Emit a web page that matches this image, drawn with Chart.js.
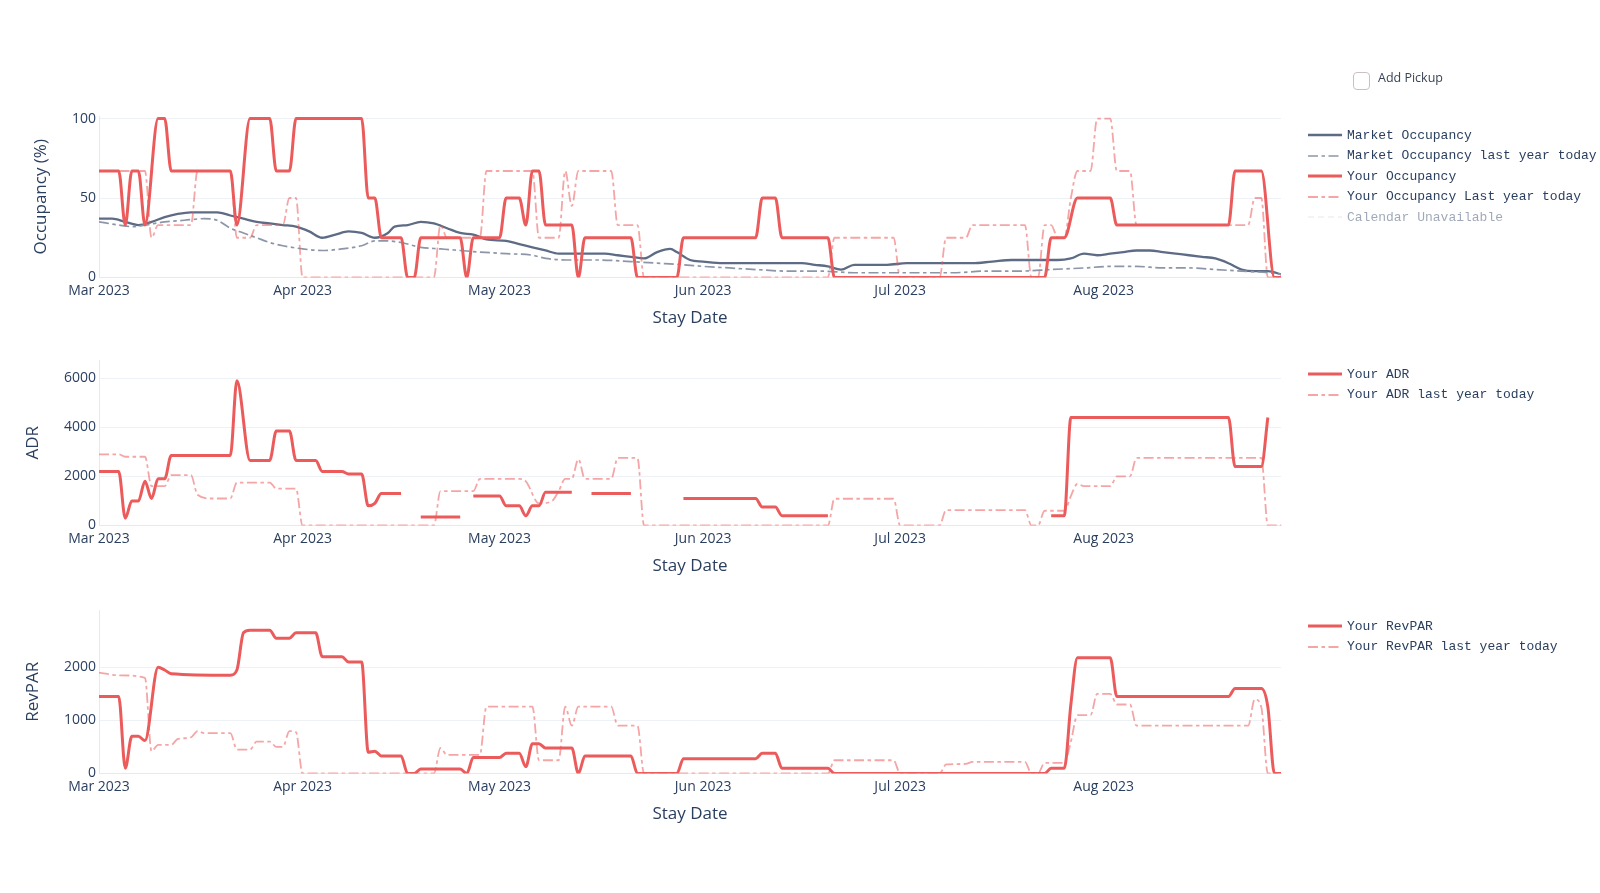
<!DOCTYPE html>
<html>
<head>
<meta charset="utf-8">
<script src="https://cdn.jsdelivr.net/npm/chart.js@4.4.0/dist/chart.umd.min.js"></script>
<style>
html,body{margin:0;padding:0;background:#fff;width:1600px;height:893px;overflow:hidden;}
canvas{position:absolute;left:0;top:0;}
.leg{position:absolute;left:1306px;font-family:"Liberation Mono","DejaVu Sans Mono",monospace;font-size:13px;color:#2a3f5f;white-space:nowrap;}
.row{height:20.4px;display:flex;align-items:center;}
.row svg{width:38px;height:10px;margin-right:3px;flex:none;}
.off{opacity:0.45;}
#pick{position:absolute;left:1353px;top:72px;width:15px;height:16px;border:1px solid #cbbfc3;border-radius:4px;}
#pickTxt{position:absolute;left:1378px;top:69px;font-family:"Open Sans",sans-serif;font-size:12.5px;color:#3a4456;line-height:17px;}
</style>
</head>
<body>
<canvas id="cOcc" width="1600" height="893"></canvas>
<canvas id="cAdr" width="1600" height="893"></canvas>
<canvas id="cRev" width="1600" height="893"></canvas>
<div id="pick"></div><div id="pickTxt">Add Pickup</div>
<div class="leg" id="legOcc" style="top:125.3px"></div>
<div class="leg" id="legAdr" style="top:364.3px"></div>
<div class="leg" id="legRev" style="top:616.3px"></div>
<script>
// ---- x axis: day offsets from 2023-03-01 (Stay Date) ----
const startDate = '2023-03-01';
const lastDay = 180; // 2023-08-28
const tickDays = [0, 31, 61, 92, 122, 153];
const tickLabels = ['Mar 2023', 'Apr 2023', 'May 2023', 'Jun 2023', 'Jul 2023', 'Aug 2023'];

// ---- Occupancy (%) : [day, value] ----
const marketOccupancy = [[0,37],[2,37],[4,35],[6,33],[8,35],[10,38],[12,40],[14,41],[16,41],[18,41],[20,39],[22,37],[24,35],[26,34],[28,33],[30,32],[32,29],[34,25],[36,27],[38,29],[40,28],[42,25],[44,28],[45,32],[47,33],[49,35],[51,34],[53,31],[55,28],[57,27],[59,24],[62,23],[64,21],[66,19],[68,17],[70,15],[72,15],[74,15],[77,15],[79,14],[81,13],[83,12],[85,16],[87,18],[88,16],[90,11],[92,10],[95,9],[98,9],[101,9],[104,9],[107,9],[109,8],[111,7],[113,5],[115,8],[118,8],[120,8],[123,9],[126,9],[130,9],[133,9],[136,10],[139,11],[142,11],[144,11],[146,11],[148,12],[150,15],[152,14],[154,15],[156,16],[158,17],[160,17],[162,16],[164,15],[166,14],[168,13],[170,12],[172,9],[174,5],[176,4],[178,4],[180,2]];
const marketOccupancyLY = [[0,35],[3,33],[5,32],[7,33],[10,35],[13,36],[16,37],[18,36],[20,31],[22,28],[24,25],[26,22],[28,20],[31,18],[34,17],[37,18],[40,20],[42,23],[44,23],[46,22],[49,19],[52,18],[55,17],[58,16],[62,15],[66,14],[68,12],[72,11],[76,11],[81,10],[85,9],[89,8],[92,7],[96,6],[100,5],[105,4],[110,4],[115,3],[120,3],[125,3],[130,3],[135,4],[140,4],[145,5],[150,6],[154,7],[158,7],[162,6],[166,6],[170,5],[174,4],[178,3],[180,2]];
const yourOccupancy = [[0,67],[3,67],[4,33],[5,67],[6,67],[7,33],[9,100],[10,100],[11,67],[20,67],[21,33],[23,100],[26,100],[27,67],[29,67],[30,100],[40,100],[41,50],[42,50],[43,25],[46,25],[47,0],[48,0],[49,25],[55,25],[56,0],[57,25],[61,25],[62,50],[64,50],[65,33],[66,67],[67,67],[68,33],[72,33],[73,0],[74,25],[81,25],[82,0],[88,0],[89,25],[100,25],[101,50],[103,50],[104,25],[111,25],[112,0],[144,0],[145,25],[147,25],[149,50],[154,50],[155,33],[172,33],[173,67],[177,67],[179,0],[180,0]];
const yourOccupancyLY = [[0,67],[7,67],[8,25],[9,33],[14,33],[15,67],[20,67],[21,25],[23,25],[24,33],[28,33],[29,50],[30,50],[31,0],[51,0],[52,33],[53,25],[58,25],[59,67],[66,67],[67,25],[70,25],[71,67],[72,45],[73,67],[78,67],[79,33],[82,33],[83,0],[111,0],[112,25],[121,25],[122,0],[128,0],[129,25],[132,25],[133,33],[141,33],[142,0],[143,0],[144,33],[145,33],[146,25],[147,25],[148,50],[149,67],[151,67],[152,100],[154,100],[155,67],[157,67],[158,33],[175,33],[176,50],[177,50],[178,0],[180,0]];

// ---- ADR ----
const yourADR = [[0,2200],[3,2200],[4,300],[5,1000],[6,1000],[7,1800],[8,1100],[9,1900],[10,1900],[11,2850],[20,2850],[21,5900],[23,2650],[26,2650],[27,3850],[29,3850],[30,2650],[33,2650],[34,2200],[37,2200],[38,2100],[40,2100],[41,800],[42,900],[43,1300],[46,1300],[46.5,null],[49,350],[55,350],[55.5,null],[57,1200],[61,1200],[62,800],[64,800],[65,400],[66,800],[67,800],[68,1350],[72,1350],[72.5,null],[75,1300],[81,1300],[81.5,null],[89,1100],[100,1100],[101,750],[103,750],[104,400],[111,400],[111.5,null],[145,400],[147,400],[148,4400],[172,4400],[173,2400],[177,2400],[178,4400]];
const yourADRLY = [[0,2900],[3,2900],[4,2800],[7,2800],[8,1600],[10,1600],[11,2050],[14,2050],[15,1250],[17,1100],[20,1100],[21,1750],[26,1750],[27,1500],[30,1500],[31,0],[51,0],[52,1400],[57,1400],[58,1900],[64,1900],[65,1800],[67,900],[69,1000],[70,1400],[71,1900],[72,1900],[73,2700],[74,1900],[78,1900],[79,2750],[82,2750],[83,0],[111,0],[112,1090],[121,1090],[122,0],[128,0],[129,630],[141,630],[142,0],[143,0],[144,600],[147,600],[148,1200],[149,1700],[150,1600],[154,1600],[155,2000],[157,2000],[158,2750],[177,2750],[178,0],[180,0]];

// ---- RevPAR ----
const yourRevPAR = [[0,1450],[3,1450],[4,100],[5,700],[6,700],[7,620],[9,2000],[10,1950],[11,1880],[20,1850],[21,1950],[22,2650],[23,2700],[26,2700],[27,2550],[29,2550],[30,2650],[33,2650],[34,2200],[37,2200],[38,2100],[40,2100],[41,400],[42,420],[43,330],[46,330],[47,0],[48,0],[49,85],[55,85],[56,0],[57,300],[61,300],[62,380],[64,380],[65,130],[66,560],[67,560],[68,480],[72,480],[73,0],[74,330],[81,330],[82,0],[88,0],[89,280],[100,280],[101,380],[103,380],[104,100],[111,100],[112,0],[144,0],[145,100],[147,100],[148,1300],[149,2180],[154,2180],[155,1450],[172,1450],[173,1600],[177,1600],[178,1250],[179,0],[180,0]];
const yourRevPARLY = [[0,1900],[3,1850],[7,1800],[8,420],[9,540],[11,540],[12,650],[14,680],[15,800],[16,760],[20,760],[21,450],[23,450],[24,600],[26,600],[27,500],[28,500],[29,800],[30,780],[31,0],[51,0],[52,480],[53,350],[58,350],[59,1260],[66,1260],[67,250],[70,250],[71,1260],[72,900],[73,1260],[78,1260],[79,900],[82,900],[83,0],[111,0],[112,250],[121,250],[122,0],[128,0],[129,170],[132,180],[133,220],[141,220],[142,0],[143,0],[144,200],[147,200],[148,600],[149,1100],[151,1100],[152,1500],[154,1500],[155,1300],[157,1300],[158,900],[175,900],[176,1400],[177,1250],[178,0],[180,0]];

// ---- y ticks ----
const occTicks = [0, 50, 100];
const adrTicks = [0, 2000, 4000, 6000];
const revTicks = [0, 1000, 2000];

// ---- styles ----
const TXT = '#2a3f5f';
const GRID = '#eef1f6';
const AXIS = '#efe6e9';
const RED = '#ec5b5b';
const RED_LY = 'rgba(236,91,91,0.55)';
const MKT = '#5d6b85';
const MKT_LY = '#8c96a8';
const DASHDOT = [10, 3.5, 3.5, 3.5];
const PLOT_LEFT = 99, PLOT_RIGHT = 1281, X_AXIS_H = 50;

Chart.defaults.font.family = '"Open Sans", sans-serif';

const styles = {
  market:   {color: MKT,    width: 2.3, dash: []},
  marketLY: {color: MKT_LY, width: 1.7, dash: DASHDOT},
  your:     {color: RED,    width: 3.0, dash: []},
  yourLY:   {color: RED_LY, width: 1.8, dash: DASHDOT},
  cal:      {color: '#d9dde4', width: 1.5, dash: [6, 4]}
};

function ds(label, data, st, order) {
  return {label, data, borderColor: st.color, borderWidth: st.width, borderDash: st.dash,
          pointRadius: 0, fill: false, spanGaps: false, cubicInterpolationMode: 'monotone', order};
}

function makeChart(id, cfg) {
  return new Chart(document.getElementById(id), {
    type: 'line',
    data: {datasets: cfg.datasets},
    options: {
      responsive: false, animation: false, devicePixelRatio: 1,
      layout: {padding: {left: 0, right: 1600 - PLOT_RIGHT, top: cfg.top, bottom: 893 - cfg.bottom - X_AXIS_H}},
      plugins: {legend: {display: false}, tooltip: {enabled: false}},
      scales: {
        x: {
          type: 'linear', min: 0, max: lastDay,
          afterFit: s => { s.height = X_AXIS_H; },
          afterBuildTicks: s => { s.ticks = tickDays.map(v => ({value: v})); },
          ticks: {autoSkip: false, maxRotation: 0, padding: -3, color: TXT, font: {size: 14},
                  callback: v => tickLabels[tickDays.indexOf(v)]},
          grid: {display: false},
          border: {display: true, color: AXIS, width: 1},
          title: {display: true, text: 'Stay Date', color: TXT, font: {size: 17}, padding: {top: 0, bottom: -0.5}}
        },
        y: {
          min: 0, max: cfg.ymax,
          afterFit: s => { s.width = PLOT_LEFT; },
          afterBuildTicks: s => { s.ticks = cfg.yTicks.map(v => ({value: v})); },
          ticks: {padding: 3, color: TXT, font: {size: 14}, callback: v => String(v)},
          grid: {color: GRID, drawTicks: false, lineWidth: 1},
          border: {display: true, color: AXIS, width: 1},
          title: {display: true, text: cfg.yTitle, color: TXT, font: {size: 17}, padding: {top: cfg.yTitlePad, bottom: 0}}
        }
      }
    }
  });
}

makeChart('cOcc', {
  top: 116, bottom: 277.5, ymax: 101.6, yTicks: occTicks, yTitle: 'Occupancy (%)', yTitlePad: 30.5,
  datasets: [
    ds('Market Occupancy', marketOccupancy, styles.market, 4),
    ds('Market Occupancy last year today', marketOccupancyLY, styles.marketLY, 3),
    ds('Your Occupancy', yourOccupancy, styles.your, 2),
    ds('Your Occupancy Last year today', yourOccupancyLY, styles.yourLY, 1)
  ]
});
makeChart('cAdr', {
  top: 360, bottom: 525.5, ymax: 6740, yTicks: adrTicks, yTitle: 'ADR', yTitlePad: 23,
  datasets: [
    ds('Your ADR', yourADR, styles.your, 2),
    ds('Your ADR last year today', yourADRLY, styles.yourLY, 1)
  ]
});
makeChart('cRev', {
  top: 610, bottom: 773.5, ymax: 3080, yTicks: revTicks, yTitle: 'RevPAR', yTitlePad: 22.5,
  datasets: [
    ds('Your RevPAR', yourRevPAR, styles.your, 2),
    ds('Your RevPAR last year today', yourRevPARLY, styles.yourLY, 1)
  ]
});

// ---- HTML legends ----
function legend(id, items) {
  const el = document.getElementById(id);
  items.forEach(([name, st, off]) => {
    const row = document.createElement('div');
    row.className = 'row' + (off ? ' off' : '');
    const svgNS = 'http://www.w3.org/2000/svg';
    const svg = document.createElementNS(svgNS, 'svg');
    svg.setAttribute('viewBox', '0 0 38 10');
    const ln = document.createElementNS(svgNS, 'line');
    ln.setAttribute('x1', 2); ln.setAttribute('x2', 36); ln.setAttribute('y1', 5); ln.setAttribute('y2', 5);
    ln.setAttribute('stroke', st.color); ln.setAttribute('stroke-width', st.width);
    if (st.dash.length) ln.setAttribute('stroke-dasharray', st.dash.join(','));
    svg.appendChild(ln);
    const t = document.createElement('span');
    t.textContent = name;
    row.appendChild(svg); row.appendChild(t);
    el.appendChild(row);
  });
}
legend('legOcc', [
  ['Market Occupancy', styles.market],
  ['Market Occupancy last year today', styles.marketLY],
  ['Your Occupancy', styles.your],
  ['Your Occupancy Last year today', styles.yourLY],
  ['Calendar Unavailable', styles.cal, true]
]);
legend('legAdr', [['Your ADR', styles.your], ['Your ADR last year today', styles.yourLY]]);
legend('legRev', [['Your RevPAR', styles.your], ['Your RevPAR last year today', styles.yourLY]]);
</script>
</body>
</html>
